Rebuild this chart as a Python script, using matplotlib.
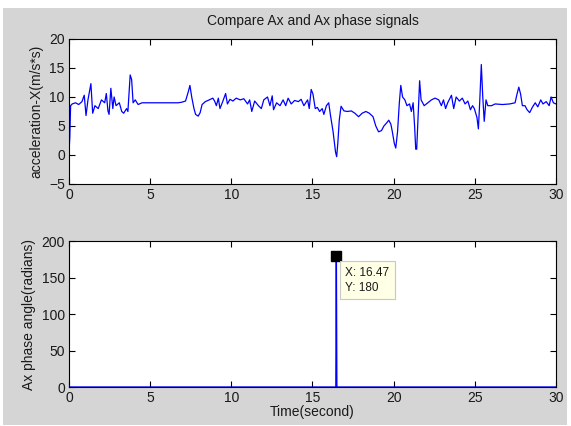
import matplotlib.pyplot as plt
from matplotlib.patches import Rectangle

plt.rcParams['font.family'] = ['Liberation Sans', 'DejaVu Sans']

FIG_GRAY = "#d5d5d5"

# acceleration-X samples (time in s, value in m/s^2)
ACC_T = [
    0.0, 0.05, 0.1, 0.2, 0.4, 0.6, 0.8, 0.94, 1.05, 1.17, 1.35, 1.46, 1.6, 1.8,
    2.0, 2.2, 2.3, 2.4, 2.47, 2.58, 2.7, 2.78, 2.9, 3.1, 3.25, 3.37, 3.55, 3.63,
    3.77, 3.86, 3.95, 4.08, 4.26, 4.5, 5.5, 6.73, 6.95, 7.18, 7.36, 7.45, 7.56,
    7.7, 7.8, 7.96, 8.08, 8.2, 8.4, 8.64, 8.86, 8.97, 9.08, 9.2, 9.3, 9.47,
    9.65, 9.76, 9.92, 10.1, 10.3, 10.55, 10.77, 11.0, 11.13, 11.26, 11.44,
    11.67, 11.85, 12.0, 12.23, 12.38, 12.52, 12.6, 12.79, 13.0, 13.19, 13.35,
    13.5, 13.69, 13.9, 14.13, 14.3, 14.47, 14.7, 14.8, 14.92, 15.03, 15.17,
    15.3, 15.44, 15.6, 15.7, 15.86, 16.0, 16.1, 16.27, 16.42, 16.49, 16.56,
    16.65, 16.76, 16.94, 17.16, 17.39, 17.61, 17.84, 18.06, 18.29, 18.5, 18.73,
    18.9, 19.07, 19.25, 19.4, 19.56, 19.7, 19.83, 19.92, 20.04, 20.13, 20.24,
    20.35, 20.44, 20.55, 20.69, 20.82, 20.98, 21.09, 21.2, 21.29, 21.36, 21.42,
    21.54, 21.6, 21.69, 21.88, 22.1, 22.33, 22.55, 22.78, 22.94, 23.07, 23.2,
    23.33, 23.56, 23.7, 23.85, 24.05, 24.23, 24.4, 24.57, 24.73, 24.86, 24.97,
    25.13, 25.22, 25.3, 25.4, 25.49, 25.58, 25.69, 25.8, 26.03, 26.25, 26.7,
    27.15, 27.48, 27.6, 27.71, 27.82, 27.93, 28.09, 28.22, 28.38, 28.54, 28.72,
    28.88, 29.06, 29.2, 29.4, 29.58, 29.7, 29.84, 30.0,
]
ACC_V = [
    0.5, 3.0, 8.5, 8.8, 9.0, 8.7, 9.2, 10.3, 6.8, 9.5, 12.3, 7.2, 8.5, 8.0,
    9.5, 9.0, 10.6, 7.6, 7.0, 11.5, 8.0, 10.0, 8.5, 9.0, 7.5, 7.2, 8.0, 7.5,
    13.8, 13.0, 9.0, 9.5, 8.7, 9.0, 9.0, 9.0, 9.1, 9.3, 11.0, 12.0, 10.0,
    8.0, 7.0, 6.7, 7.3, 8.7, 9.2, 9.5, 9.8, 9.3, 8.5, 9.8, 8.0, 9.2,
    10.6, 8.8, 9.6, 9.3, 9.8, 9.5, 9.7, 8.8, 9.5, 7.5, 9.3,
    8.5, 8.0, 9.5, 10.0, 8.5, 10.2, 7.8, 9.0, 8.5, 9.5, 8.5,
    9.8, 8.8, 9.4, 9.2, 9.6, 8.5, 9.5, 8.0, 11.3, 10.5, 8.0,
    8.2, 7.5, 8.0, 7.0, 8.5, 9.0, 7.0, 4.0, 0.5, -0.3, 2.0,
    6.0, 8.4, 7.6, 7.5, 7.6, 7.2, 6.6, 7.2, 7.5, 7.2, 6.6,
    5.0, 4.0, 4.2, 5.0, 5.5, 6.0, 5.3, 4.0, 2.0, 1.2, 4.0,
    9.0, 12.0, 10.0, 9.5, 8.5, 8.8, 7.5, 9.0, 5.0, 1.0, 1.0,
    9.0, 12.8, 9.5, 8.5, 9.0, 9.5, 9.8, 9.5, 8.5, 9.5, 8.0,
    9.0, 10.3, 8.0, 10.0, 9.3, 9.8, 8.8, 9.3, 7.8, 8.5, 8.0,
    6.5, 4.5, 9.0, 15.6, 10.0, 5.8, 9.5, 8.5, 8.5, 8.8, 8.7,
    8.8, 9.0, 10.5, 11.7, 10.5, 8.5, 8.5, 7.8, 7.3, 8.2, 9.0,
    8.3, 9.5, 8.8, 9.2, 8.5, 10.0, 9.0, 8.8,
]

# phase angle: zero everywhere except one sample at 16.47 s
PHASE_T = [0.0, 16.44, 16.47, 16.50, 30.0]
PHASE_V = [0.0, 0.0, 180.0, 0.0, 0.0]
TIP_X, TIP_Y = 16.47, 180

X_TICKS = [0, 5, 10, 15, 20, 25, 30]
ACC_TICKS = [-5, 0, 5, 10, 15, 20]
PHASE_TICKS = [0, 50, 100, 150, 200]

TEXT = "#1a1a1a"


def style(ax):
    ax.tick_params(direction="in", length=4, width=0.8, top=True, right=True,
                   labelsize=10, pad=3, colors="black", labelcolor=TEXT)
    for s in ax.spines.values():
        s.set_linewidth(0.8)
        s.set_color("black")


fig = plt.figure(figsize=(5.71, 4.26), dpi=100)
fig.patch.set_facecolor("white")
fig.patches.append(Rectangle((0.005, 0.002), 0.988, 0.979, transform=fig.transFigure,
                             facecolor=FIG_GRAY, edgecolor="none", zorder=-10))

ax1 = fig.add_axes([0.1208, 0.5681, 0.8529, 0.3404])
ax1.plot(ACC_T, ACC_V, color="#0000ff", linewidth=0.9)
ax1.set_xlim(0, 30)
ax1.set_ylim(-5, 20)
ax1.set_xticks(X_TICKS)
ax1.set_yticks(ACC_TICKS)
ax1.set_ylabel("acceleration-X(m/s*s)", fontsize=10, labelpad=4, color=TEXT)
ax1.set_title("Compare Ax and Ax phase signals", fontsize=10, pad=10, color=TEXT)
style(ax1)

ax2 = fig.add_axes([0.1208, 0.0915, 0.8529, 0.3427])
ax2.plot(PHASE_T, PHASE_V, color="#0000ff", linewidth=1.0)
ax2.plot([TIP_X], [TIP_Y], marker="s", markersize=7, color="black", linestyle="none")
ax2.annotate(f"X: {TIP_X}\nY: {TIP_Y}", xy=(TIP_X, TIP_Y), xytext=(9, -11),
             textcoords="offset pixels", ha="left", va="top", fontsize=8.5,
             linespacing=1.35, color=TEXT,
             bbox=dict(boxstyle="square,pad=0.45", facecolor="#ffffe6",
                       edgecolor="#c8c8c8", linewidth=0.8))
ax2.set_xlim(0, 30)
ax2.set_ylim(0, 200)
ax2.set_xticks(X_TICKS)
ax2.set_yticks(PHASE_TICKS)
ax2.set_xlabel("Time(second)", fontsize=10, labelpad=0, color=TEXT)
ax2.set_ylabel("Ax phase angle(radians)", fontsize=10, labelpad=4, color=TEXT)
style(ax2)

fig.savefig("out.png", dpi=100)
